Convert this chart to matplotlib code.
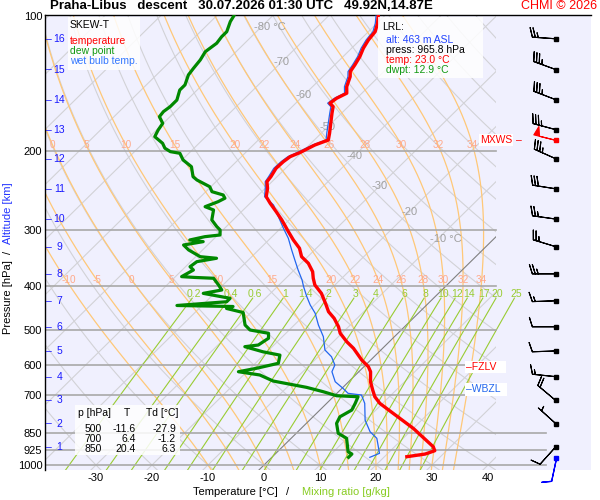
import numpy as np
import matplotlib
matplotlib.use('Agg')
import matplotlib.pyplot as plt
from matplotlib.patches import Rectangle
from matplotlib.ticker import NullLocator, NullFormatter

plt.rcParams['font.family'] = ['Liberation Sans', 'DejaVu Sans']

# ---- sounding data ----
temp_p = [958.3, 945.2, 929.3, 910.5, 828.6, 767.4, 729.0, 704.6, 680.8, 652.4,
          619.8, 604.1, 583.7, 549.7, 531.4, 508.9, 492.0, 471.3, 455.6, 437.9,
          414.7, 397.2, 383.8, 371.1, 355.4, 343.6, 329.1, 315.4, 302.2, 284.6,
          272.8, 261.3, 252.6, 241.9, 233.9, 228.0, 218.4, 211.1, 205.7, 201.5,
          193.8, 188.9, 182.5, 164.7, 159.2, 156.4, 152.5, 148.6, 143.7, 136.5,
          133.0, 128.5, 123.2, 118.0, 113.1, 108.4, 103.8, 100.0]
temp_t = [24.0, 26.8, 27.9, 26.9, 20.0, 13.7, 9.5, 7.4, 5.8, 3.9,
          2.1, 0.8, -1.6, -5.2, -7.6, -10.3, -11.8, -14.1, -16.3, -18.2,
          -20.9, -23.6, -25.1, -26.4, -28.7, -31.1, -33.0, -35.6, -38.0, -41.3,
          -43.8, -46.4, -48.3, -49.6, -50.9, -51.1, -51.7, -51.6, -51.3, -50.3,
          -49.0, -47.5, -48.5, -51.7, -52.7, -53.9, -53.6, -52.7, -53.9, -55.1,
          -56.0, -56.4, -57.0, -57.9, -58.5, -58.8, -59.9, -61.1]

dew_p = [961.3, 945.2, 934.1, 872.0, 850.0, 807.7, 780.9, 754.5, 729.0, 704.6,
         701.0, 686.8, 671.5, 650.1, 630.2, 619.8, 609.0, 593.6, 569.2, 559.7,
         545.1, 540.5, 522.1, 508.9, 500.4, 487.7, 457.5, 448.1, 443.6, 441.3,
         432.9, 425.4, 414.7, 407.6, 397.2, 383.8, 382.2, 380.6, 367.9, 361.7,
         352.5, 346.4, 343.6, 331.9, 323.6, 318.1, 315.4, 310.1, 307.4, 299.6,
         294.5, 284.6, 270.4, 265.9, 259.2, 254.6, 250.4, 246.2, 240.0, 231.9,
         228.0, 216.6, 209.3, 202.2, 200.5, 197.0, 192.1, 185.7, 179.5, 173.4,
         167.6, 163.3, 159.2, 153.9, 146.2, 142.4, 135.3, 130.7, 125.3, 120.1,
         115.0, 111.2, 108.4, 102.9, 100.0]
dew_t = [13.7, 13.7, 12.6, 9.9, 7.5, 5.4, 4.8, 5.7, 5.1, 4.4,
         0.4, -2.7, -6.5, -13.6, -17.1, -21.5, -18.9, -15.9, -17.1, -20.7,
         -24.9, -22.8, -22.2, -23.1, -27.0, -28.8, -31.4, -35.1, -34.3, -44.5,
         -36.3, -36.3, -42.0, -39.3, -40.8, -42.9, -46.4, -48.9, -48.0, -49.2,
         -48.9, -46.0, -49.2, -52.5, -54.3, -51.4, -54.1, -52.0, -49.6, -50.5,
         -51.7, -53.8, -55.3, -57.4, -56.0, -55.4, -56.3, -58.9, -60.2, -63.7,
         -65.0, -67.1, -69.8, -71.6, -73.6, -75.2, -76.5, -79.1, -79.7, -80.1,
         -81.9, -82.1, -81.8, -81.8, -83.1, -83.1, -84.3, -84.6, -84.9, -85.5,
         -85.0, -85.3, -85.3, -86.5, -86.9]

wb_p = [961.3, 941.8, 872.0, 843.1, 794.2, 729.0, 698.4, 692.4, 675.0, 652.4,
        619.8, 598.8, 573.9, 554.4, 517.8, 487.7, 459.3, 440.1, 421.9, 400.7,
        387.1, 367.9, 349.5, 331.9, 312.7, 297.0, 279.9, 263.6, 252.6, 241.9,
        233.9, 228.0, 218.4, 211.1, 205.7, 201.5, 193.8, 188.9, 182.5, 164.7,
        159.2, 156.4, 152.5, 148.6, 143.7, 136.5, 133.0, 128.5, 123.2, 118.0,
        113.1, 108.4, 103.8, 100.0]
wb_t = [17.5, 18.5, 15.3, 12.9, 9.9, 6.8, 4.7, 2.0, 0.2, -2.4,
        -4.8, -5.5, -7.6, -10.0, -12.7, -15.7, -18.4, -20.8, -22.9, -25.3,
        -26.8, -29.3, -31.7, -34.1, -36.8, -39.5, -42.5, -45.5, -48.6, -50.0,
        -51.2, -51.5, -52.1, -52.0, -51.7, -50.8, -49.4, -47.9, -49.0, -52.1,
        -53.1, -54.3, -54.0, -53.1, -54.3, -55.5, -56.4, -56.8, -57.4, -58.3,
        -58.9, -59.2, -60.3, -61.5]

# altitude (km) levels; wind barbs are drawn at the same levels
alt_km = list(range(1, 17))
alt_p = [911.1, 808.5, 718.2, 635.7, 557.2, 492.2, 430.8, 375.2, 326.4, 283.3,
         242.6, 207.9, 179.1, 153.6, 131.6, 112.4]
wind_dir = [222, 312, 310, 276, 268, 270, 268, 270, 287, 278,
            279, 294, 285, 291, 290, 274]
wind_kt = [10, 5, 20, 15, 10, 10, 15, 25, 25, 25,
           30, 35, 35, 35, 35, 25]
mxws_p, mxws_dir, mxws_kt = 189.1, 284, 50
sfc_p, sfc_dir, sfc_kt = 966.0, 192, 10

fzlv_p = 605.0
wbzl_p = 678.0

stats_p = [500, 700, 850]
stats_t = [-11.6, 6.4, 20.4]
stats_td = [-27.9, -1.2, 6.3]

lrl_alt, lrl_press, lrl_temp, lrl_dwpt = 463, 965.8, 23.0, 12.9

p_ticks = [100, 200, 300, 400, 500, 600, 700, 850, 925, 1000]
t_ticks = [-30, -20, -10, 0, 10, 20, 30, 40]
moist_tw = [-10, -5, 0, 5, 10, 15, 20, 22, 24, 26, 28, 30, 32, 34]
moist_lab_top = [0, 5, 10, 15, 20, 22, 24, 26, 28, 30, 32, 34]
mix_w = [0.2, 0.4, 0.6, 1, 1.4, 2, 3, 4, 6, 8, 10, 12, 14, 17, 20, 25]
iso_lab_t = [-80, -70, -60, -50, -40, -30, -20, -10]
iso_lab_p = [105.8, 126.6, 150.0, 176.7, 205.0, 239.1, 273.2, 313.8]

# ---- geometry ----
W, H = 600, 500
X0, X1, XC = 45, 591, 496
Y0, Y1 = 15, 470
T0_PX = 264
PX_PER_C = 5.6
SKEW = 81.5
P_TOP, P_BOT = 99.5, 1025.9


def skx(t, p):
    return np.asarray(t, float) + SKEW * np.log10(1000.0 / np.asarray(p, float))


def fx(px):
    return px / W


def fy(py):
    return 1 - py / H


def xf(px):
    return (px - X0) / (X1 - X0)


"""moist (pseudo) adiabats by RK4 in ln p"""
Rd, Cp, Lv, eps = 287.04, 1005.7, 2.501e6, 0.622


def lapse(T, p):
    es = 6.112 * np.exp(17.67 * (T - 273.15) / (T - 29.65))
    rs = eps * es / (p - es)
    return (Rd * T + Lv * rs) / (Cp + Lv * Lv * rs * eps / (Rd * T * T))


def moist(tw, p_grid):
    lnp = np.log(p_grid)
    T = np.array(tw, float) + 273.15
    out = [T.copy()]
    for i in range(1, len(lnp)):
        h = lnp[i] - lnp[i - 1]
        pa, pb, pc = np.exp(lnp[i - 1]), np.exp(lnp[i - 1] + h / 2), np.exp(lnp[i])
        k1 = lapse(T, pa)
        k2 = lapse(T + h / 2 * k1, pb)
        k3 = lapse(T + h / 2 * k2, pb)
        k4 = lapse(T + h * k3, pc)
        T = T + h / 6 * (k1 + 2 * k2 + 2 * k3 + k4)
        out.append(T.copy())
    return np.array(out) - 273.15


p_up = np.geomspace(1000, P_TOP, 300)
p_dn = np.geomspace(1000, P_BOT, 10)
m_up = moist(moist_tw, p_up)
m_dn = moist(moist_tw, p_dn)
p_m = np.concatenate([p_dn[::-1], p_up[1:]])
m_all = np.vstack([m_dn[::-1], m_up[1:]])

# ---- figure ----
fig = plt.figure(figsize=(6, 5), dpi=100)
ax = fig.add_axes([fx(X0), fy(Y1), (X1 - X0) / W, (Y1 - Y0) / H])
ax.set_facecolor('#f0f0fe')
ax.set_yscale('log')
ax.set_ylim(P_BOT, P_TOP)
ax.set_xlim((X0 - T0_PX) / PX_PER_C, (X1 - T0_PX) / PX_PER_C)
for s in ['right', 'bottom']:
    ax.spines[s].set_visible(False)
for s in ['left', 'top']:
    ax.spines[s].set_linewidth(1.0)

clip = Rectangle((0, 0), xf(XC), 1, transform=ax.transAxes, fc='none', ec='none')
ax.add_patch(clip)

pp = np.geomspace(P_BOT, P_TOP, 60)
# isotherms
for t in range(-140, 60, 10):
    ln, = ax.plot(skx(t, pp), pp, color='#808080' if t == 0 else '#d2d2d6',
                  lw=0.8, zorder=1.2 if t == 0 else 1)
    ln.set_clip_path(clip)
# dry adiabats
for th in range(-40, 200, 10):
    tt = (th + 273.15) * (pp / 1000.0) ** 0.2857 - 273.15
    ln, = ax.plot(skx(tt, pp), pp, color='#d2d2d6', lw=0.8, zorder=1)
    ln.set_clip_path(clip)
# moist adiabats
for j, tw in enumerate(moist_tw):
    ln, = ax.plot(skx(m_all[:, j], p_m), p_m, color='#ffc878', lw=0.9, zorder=1.1)
    ln.set_clip_path(clip)
lnp_m = np.log(p_m[::-1])
for j, tw in enumerate(moist_tw):
    col = m_all[::-1, j]
    for plab in [193.9, 387.7]:
        if plab < 300 and tw not in moist_lab_top:
            continue
        tl = np.interp(np.log(plab), lnp_m, col)
        dx = 0.4 if (plab > 300 and tw == -10) else 0.0
        ax.text(skx(tl, plab) + dx, plab, str(tw), color='#ffa98a', fontsize=7.2,
                ha='center', va='center', zorder=3)
# mixing ratio lines
pw = np.geomspace(P_BOT, 425, 30)
for w in mix_w:
    e = w * pw / (622.0 + w)
    a = np.log(e / 6.112)
    td = 243.5 * a / (17.67 - a)
    ax.plot(skx(td, pw), pw, color='#99cc33', lw=0.8, zorder=1.3)
    ax.text(skx(td[-1], 425) + 0.3, 415, f"{w:g}", color='#99cc33', fontsize=7.5,
            ha='center', va='center', zorder=3)
# isotherm labels
for t, p in zip(iso_lab_t, iso_lab_p):
    if t in (-80, -10):
        ax.annotate(f"{t} °C", (skx(t, p), p), xytext=(-5.5, 0), textcoords='offset points',
                    color='#a0a0a0', fontsize=8, ha='left', va='center', zorder=3)
    else:
        ax.text(skx(t, p), p, str(t), color='#a0a0a0', fontsize=8,
                ha='center', va='center', zorder=3)
# isobars
for p in p_ticks[1:]:
    ax.axhline(p, xmax=xf(546) if p >= 850 else xf(XC), color='#a8a8a8', lw=1.2, zorder=2)

# sounding
ax.plot(skx(wb_t, wb_p), wb_p, color='#2266ee', lw=0.9, zorder=5)
ax.plot(skx(dew_t, dew_p), dew_p, color='#008800', lw=2.3, zorder=5)
ax.plot(skx(temp_t, temp_p), temp_p, color='#ff0000', lw=2.4, zorder=6)

# wind barbs
bx = (555.7 - T0_PX) / PX_PER_C
blen = 5.8
d = np.radians(wind_dir)
spd = np.array(wind_kt, float)
ax.barbs(np.full(len(alt_p), bx), alt_p, -spd * np.sin(d), -spd * np.cos(d),
         length=blen, lw=0.8, color='k', clip_on=False, zorder=6)
ax.plot(np.full(len(alt_p), bx), alt_p, 's', ms=2.4, color='k', clip_on=False, zorder=6)
dm = np.radians(mxws_dir)
ax.barbs([bx], [mxws_p], [-mxws_kt * np.sin(dm)], [-mxws_kt * np.cos(dm)],
         length=blen, lw=0.8, color='red', clip_on=False, zorder=7)
ax.plot([bx], [mxws_p], 's', ms=2.4, color='red', clip_on=False, zorder=7)
ds = np.radians(sfc_dir)
ax.barbs([bx], [sfc_p], [-sfc_kt * np.sin(ds)], [-sfc_kt * np.cos(ds)],
         length=blen, lw=0.9, color='#0000ff', clip_on=False, zorder=7)
ax.plot([bx], [sfc_p], 's', ms=2.4, color='#0000ff', clip_on=False, zorder=7)

bt = ax.get_yaxis_transform()
ax.text(xf(512), mxws_p, "MXWS", transform=bt, color='red', fontsize=7.5, ha='right',
        va='center', zorder=8, bbox=dict(fc='white', ec='none', pad=0.8))
ax.text(xf(516), mxws_p, "–", transform=bt, color='red', fontsize=7.5, ha='left',
        va='center', zorder=8)
ax.text(xf(466), fzlv_p, "–FZLV   ", transform=bt, color='red', fontsize=7.5, ha='left',
        va='center', zorder=8, bbox=dict(fc='white', ec='none', pad=1.0))
ax.text(xf(466), wbzl_p, "–WBZL  ", transform=bt, color='#2266ee', fontsize=7.5, ha='left',
        va='center', zorder=8, bbox=dict(fc='white', ec='none', pad=1.0))

# altitude labels
for km, p in zip(alt_km, alt_p):
    ax.text(xf(46.5), p, "–", transform=bt, color='#1a1aff', fontsize=7.5,
            ha='left', va='center', zorder=8)
    ax.text(xf(59.5), p, str(km), transform=bt, color='#1a1aff', fontsize=7.5,
            ha='center', va='center', zorder=8)

# axes ticks
ax.set_yticks(p_ticks)
ax.set_yticklabels([str(p) for p in p_ticks])
ax.yaxis.set_minor_locator(NullLocator())
ax.yaxis.set_minor_formatter(NullFormatter())
ax.set_xticks(t_ticks)
ax.set_xticklabels([str(t) for t in t_ticks])
ax.tick_params(axis='both', length=0, labelsize=8)
ax.tick_params(axis='y', pad=2)
ax.tick_params(axis='x', pad=2)

# title
fig.text(fx(50), fy(6), "Praha-Libus   descent   30.07.2026 01:30 UTC   49.92N,14.87E",
         fontsize=9.5, fontweight='bold', ha='left', va='center')
fig.text(fx(597), fy(6), "CHMI © 2026", color='red', fontsize=9, ha='right', va='center')

# axis labels
fig.text(fx(278), fy(492), "Temperature [°C]", fontsize=8, ha='right', va='center')
fig.text(fx(288), fy(492), "/", fontsize=8, ha='center', va='center')
fig.text(fx(302), fy(492), "Mixing ratio [g/kg]", color='#88cc22', fontsize=8,
         ha='left', va='center')
fig.text(fx(8), fy(260), "Pressure [hPa]", fontsize=8, rotation=90, ha='center', va='top')
fig.text(fx(8), fy(252), "/", fontsize=8, rotation=90, ha='center', va='center')
fig.text(fx(8), fy(244), "Altitude [km]", color='#2233ff', fontsize=8, rotation=90,
         ha='center', va='bottom')

# legend box
fig.add_artist(Rectangle((fx(68), fy(70)), 72 / W, 53 / H, transform=fig.transFigure,
                         fc='white', ec='none', alpha=0.85, zorder=4))
fig.text(fx(70), fy(25), "SKEW-T", fontsize=7.5, va='center', zorder=5)
fig.text(fx(70), fy(41.5), "temperature", color='red', fontsize=7.5, va='center', zorder=5)
fig.text(fx(70), fy(51.5), "dew point", color='#119911', fontsize=7.5, va='center', zorder=5)
fig.text(fx(70), fy(61.5), "wet bulb temp.", color='#3377ff', fontsize=7.5, va='center', zorder=5)

# LRL box
fig.add_artist(Rectangle((fx(378), fy(78)), 105 / W, 61 / H, transform=fig.transFigure,
                         fc='white', ec='none', alpha=0.85, zorder=4))
fig.text(fx(382), fy(27), "LRL:", fontsize=7.5, va='center', zorder=5)
fig.text(fx(386), fy(40), f"alt: {lrl_alt} m ASL", color='#2244ff', fontsize=7.5, va='center', zorder=5)
fig.text(fx(386), fy(50), f"press: {lrl_press:.1f} hPa", fontsize=7.5, va='center', zorder=5)
fig.text(fx(386), fy(60), f"temp: {lrl_temp:.1f} °C", color='red', fontsize=7.5, va='center', zorder=5)
fig.text(fx(386), fy(70), f"dwpt: {lrl_dwpt:.1f} °C", color='#119911', fontsize=7.5, va='center', zorder=5)

# table box
fig.add_artist(Rectangle((fx(75), fy(455)), 105 / W, 50 / H, transform=fig.transFigure,
                         fc='white', ec='none', alpha=0.85, zorder=4))
fig.text(fx(78), fy(413), "p [hPa]", fontsize=7.5, va='center', zorder=5)
fig.text(fx(127), fy(413), "T", fontsize=7.5, ha='center', va='center', zorder=5)
fig.text(fx(146), fy(413), "Td [°C]", fontsize=7.5, va='center', zorder=5)
for i, (p, t, td) in enumerate(zip(stats_p, stats_t, stats_td)):
    yy = fy(429 + 10 * i)
    fig.text(fx(102), yy, str(p), fontsize=7.5, ha='right', va='center', zorder=5)
    fig.text(fx(136), yy, f"{t:.1f}", fontsize=7.5, ha='right', va='center', zorder=5)
    fig.text(fx(176), yy, f"{td:.1f}", fontsize=7.5, ha='right', va='center', zorder=5)

fig.savefig('out.png', dpi=100)
